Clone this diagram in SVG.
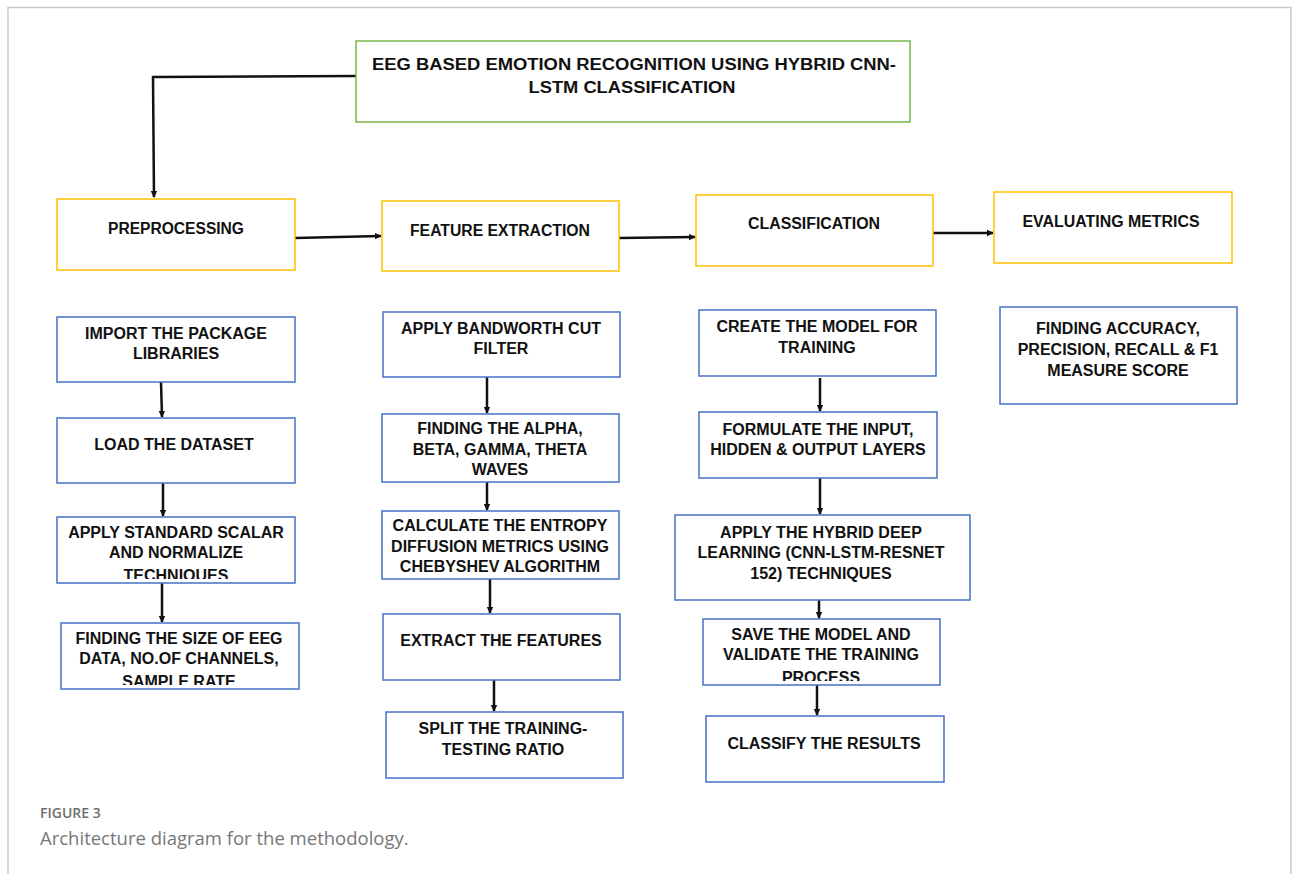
<svg xmlns="http://www.w3.org/2000/svg" width="1293" height="874" viewBox="0 0 1293 874">
<style>
.frame{fill:none;stroke:#c9c9c9;stroke-width:1.5}
.g{fill:#fff;stroke:#7ab648;stroke-width:1.5}
.y{fill:#fff;stroke:#ffc000;stroke-width:1.5}
.b{fill:#fff;stroke:#4472c4;stroke-width:1.5}
.t{font-family:"Liberation Sans",Arial,sans-serif;font-weight:bold;font-size:16px;fill:#111;text-anchor:middle}
.h{font-family:"Liberation Sans",Arial,sans-serif;font-weight:bold;font-size:16px;fill:#111;text-anchor:middle}
.c{stroke:#111;stroke-width:2.5;fill:none}
.cap1{font-family:"Open Sans","Liberation Sans",sans-serif;font-size:14px;fill:#6e6e6e;font-weight:600}
.cap2{font-family:"Open Sans","Liberation Sans",sans-serif;font-size:18.5px;fill:#777}
</style>
<defs>
<marker id="ah" markerWidth="8" markerHeight="8" refX="6" refY="4" orient="auto" markerUnits="userSpaceOnUse">
<path d="M0,0.8 L7,4 L0,7.2 Z" fill="#111"/>
</marker>
<clipPath id="c3"><rect x="57" y="517" width="238" height="62"/></clipPath>
<clipPath id="c4"><rect x="61" y="623" width="238" height="62"/></clipPath>
<clipPath id="c14"><rect x="703" y="619" width="237" height="62"/></clipPath>
</defs>
<rect width="1293" height="874" fill="#fff"/>
<path class="frame" d="M8,874 L8,7.5 L1291,7.5 L1291,874"/>

<g id="connectors">
<path class="c" d="M356,76 L153,77 L154,197" stroke-width="3" marker-end="url(#ah)"/>
<path class="c" d="M295,238 L381,236" marker-end="url(#ah)"/>
<path class="c" d="M619,238 L695,237" marker-end="url(#ah)"/>
<path class="c" d="M933,233 L993,233" marker-end="url(#ah)"/>
<path class="c" d="M161,382 L162,417" marker-end="url(#ah)"/>
<path class="c" d="M163,483 L163,516" marker-end="url(#ah)"/>
<path class="c" d="M162,583 L162,622" marker-end="url(#ah)"/>
<path class="c" d="M487,377 L487,413" marker-end="url(#ah)"/>
<path class="c" d="M487,480 L487,510" marker-end="url(#ah)"/>
<path class="c" d="M490,579 L490,613" marker-end="url(#ah)"/>
<path class="c" d="M494,680 L494,711" marker-end="url(#ah)"/>
<path class="c" d="M820,378 L820,411" marker-end="url(#ah)"/>
<path class="c" d="M820,477 L820,514" marker-end="url(#ah)"/>
<path class="c" d="M819,600 L819,618" marker-end="url(#ah)"/>
<path class="c" d="M817,685 L817,715" marker-end="url(#ah)"/>
</g>

<g id="title">
<rect class="g" x="356" y="41" width="554" height="81"/>
<text class="h" x="634" y="70" textLength="524" lengthAdjust="spacingAndGlyphs">EEG BASED EMOTION RECOGNITION USING HYBRID CNN-</text>
<text class="h" x="632" y="93" textLength="207" lengthAdjust="spacingAndGlyphs">LSTM CLASSIFICATION</text>
</g>

<g id="preprocessing">
<rect class="y" x="57" y="199" width="238" height="71"/>
<text class="h" x="176" y="234" textLength="136" lengthAdjust="spacingAndGlyphs">PREPROCESSING</text>
</g>
<g id="feature-extraction">
<rect class="y" x="382" y="201" width="237" height="70"/>
<text class="h" x="500" y="236" textLength="180" lengthAdjust="spacingAndGlyphs">FEATURE EXTRACTION</text>
</g>
<g id="classification">
<rect class="y" x="696" y="195" width="237" height="71"/>
<text class="h" x="814" y="229" textLength="132" lengthAdjust="spacingAndGlyphs">CLASSIFICATION</text>
</g>
<g id="evaluating-metrics">
<rect class="y" x="994" y="192" width="238" height="71"/>
<text class="h" x="1111" y="227" textLength="177" lengthAdjust="spacingAndGlyphs">EVALUATING METRICS</text>
</g>

<g id="import-libraries">
<rect class="b" x="57" y="317" width="238" height="65"/>
<text class="t" x="176" y="339">IMPORT THE PACKAGE</text>
<text class="t" x="176" y="359">LIBRARIES</text>
</g>
<g id="load-dataset">
<rect class="b" x="57" y="418" width="238" height="65"/>
<text class="t" x="174" y="450">LOAD THE DATASET</text>
</g>
<g id="standard-scalar">
<rect class="b" x="57" y="517" width="238" height="66"/>
<g clip-path="url(#c3)">
<text class="t" x="176" y="538">APPLY STANDARD SCALAR</text>
<text class="t" x="176" y="558">AND NORMALIZE</text>
<text class="t" x="176" y="581">TECHNIQUES</text>
</g>
</g>
<g id="size-eeg">
<rect class="b" x="61" y="623" width="238" height="66"/>
<g clip-path="url(#c4)">
<text class="t" x="179" y="644">FINDING THE SIZE OF EEG</text>
<text class="t" x="179" y="664">DATA, NO.OF CHANNELS,</text>
<text class="t" x="179" y="687">SAMPLE RATE</text>
</g>
</g>

<g id="bandworth-filter">
<rect class="b" x="383" y="312" width="237" height="65"/>
<text class="t" x="501" y="334">APPLY BANDWORTH CUT</text>
<text class="t" x="501" y="354">FILTER</text>
</g>
<g id="alpha-beta">
<rect class="b" x="382" y="414" width="237" height="68"/>
<text class="t" x="500" y="434">FINDING THE ALPHA,</text>
<text class="t" x="500" y="455">BETA, GAMMA, THETA</text>
<text class="t" x="500" y="475">WAVES</text>
</g>
<g id="entropy">
<rect class="b" x="382" y="511" width="237" height="68"/>
<text class="t" x="500" y="531">CALCULATE THE ENTROPY</text>
<text class="t" x="500" y="552">DIFFUSION METRICS USING</text>
<text class="t" x="500" y="572">CHEBYSHEV ALGORITHM</text>
</g>
<g id="extract-features">
<rect class="b" x="383" y="614" width="237" height="66"/>
<text class="t" x="501" y="646">EXTRACT THE FEATURES</text>
</g>
<g id="split">
<rect class="b" x="386" y="712" width="237" height="66"/>
<text class="t" x="503" y="734">SPLIT THE TRAINING-</text>
<text class="t" x="503" y="755">TESTING RATIO</text>
</g>

<g id="create-model">
<rect class="b" x="699" y="310" width="237" height="66"/>
<text class="t" x="817" y="332">CREATE THE MODEL FOR</text>
<text class="t" x="817" y="353">TRAINING</text>
</g>
<g id="formulate-layers">
<rect class="b" x="699" y="412" width="238" height="66"/>
<text class="t" x="818" y="435">FORMULATE THE INPUT,</text>
<text class="t" x="818" y="455">HIDDEN &amp; OUTPUT LAYERS</text>
</g>
<g id="hybrid-deep">
<rect class="b" x="675" y="515" width="295" height="85"/>
<text class="t" x="821" y="538">APPLY THE HYBRID DEEP</text>
<text class="t" x="821" y="558">LEARNING (CNN-LSTM-RESNET</text>
<text class="t" x="821" y="579">152) TECHNIQUES</text>
</g>
<g id="save-model">
<rect class="b" x="703" y="619" width="237" height="66"/>
<g clip-path="url(#c14)">
<text class="t" x="821" y="640">SAVE THE MODEL AND</text>
<text class="t" x="821" y="660">VALIDATE THE TRAINING</text>
<text class="t" x="821" y="683">PROCESS</text>
</g>
</g>
<g id="classify-results">
<rect class="b" x="706" y="716" width="238" height="66"/>
<text class="t" x="824" y="749">CLASSIFY THE RESULTS</text>
</g>

<g id="accuracy">
<rect class="b" x="1000" y="307" width="237" height="97"/>
<text class="t" x="1118" y="334">FINDING ACCURACY,</text>
<text class="t" x="1118" y="355">PRECISION, RECALL &amp; F1</text>
<text class="t" x="1118" y="376">MEASURE SCORE</text>
</g>

<text class="cap1" x="40" y="818">FIGURE 3</text>
<text class="cap2" x="40" y="845">Architecture diagram for the methodology.</text>
</svg>
